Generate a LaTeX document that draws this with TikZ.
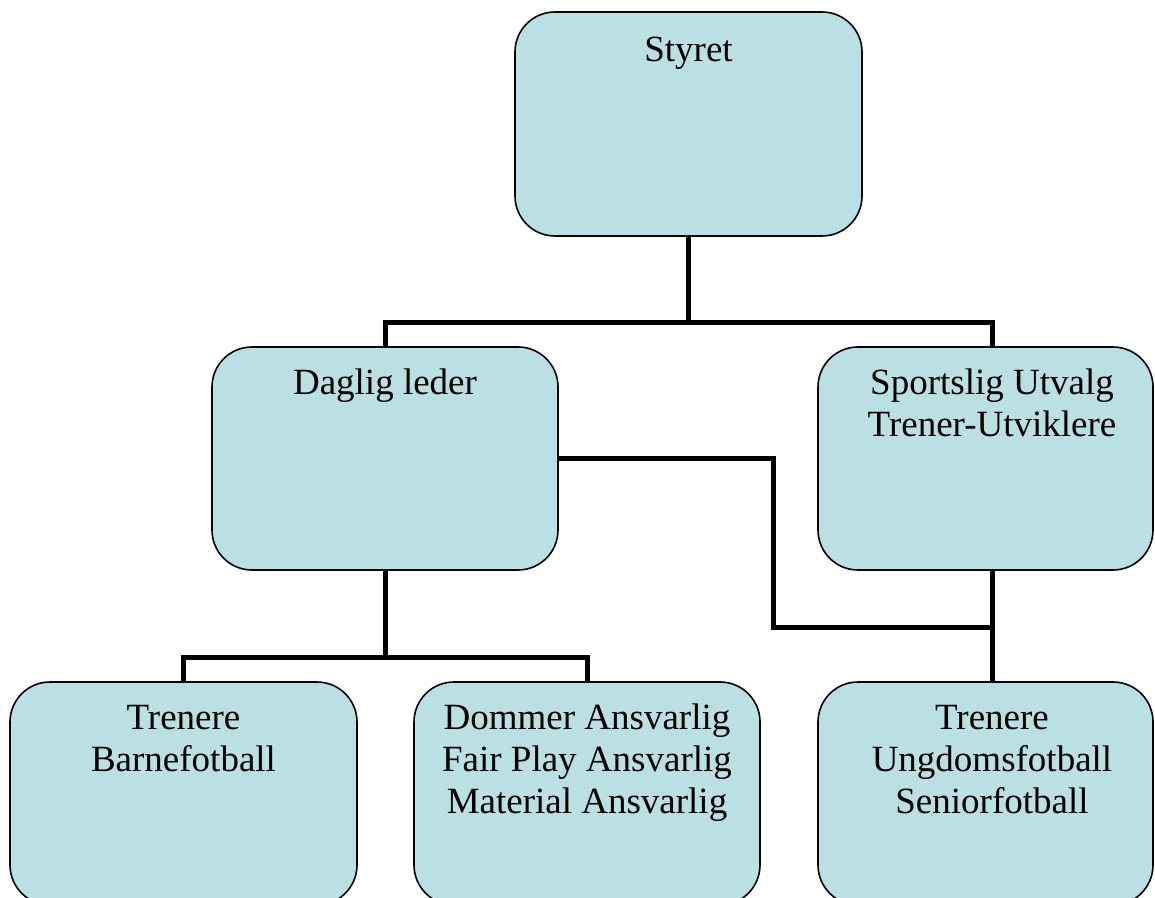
\documentclass[tikz,border=0pt]{standalone}
\usepackage{fontspec}
\setmainfont{Liberation Serif}
\usetikzlibrary{positioning}
\definecolor{boxfill}{RGB}{186,224,227}

\begin{document}
\begin{tikzpicture}[x=1pt,y=1pt,
    unit/.style={draw=black, line width=1.6pt, fill=boxfill, rounded corners=40pt,
                 minimum height=223pt, inner sep=0pt},
    lbl/.style={anchor=base, align=center, inner sep=0pt,
                font=\fontsize{37}{42}\selectfont},
    conn/.style={draw=black, line width=5pt}]
    \useasboundingbox (0,0) rectangle (1155,897);
    \clip (0,0) rectangle (1155,897);

    % boxes
    \node[unit, minimum width=347pt, minimum height=224pt] (styret) at (688.5,773) {};
    \node[unit, minimum width=346pt] (daglig) at (385,438.5) {};
    \node[unit, minimum width=335pt] (sport) at (985.5,438.5) {};
    \node[unit, minimum width=347pt] (barne) at (183.5,103.5) {};
    \node[unit, minimum width=346pt] (dommer) at (587,103.5) {};
    \node[unit, minimum width=335pt] (ungdom) at (985.5,103.5) {};

    % texts (base = last line)
    \node[lbl] (styretlbl) at (688.5,835) {Styret};
    \node[lbl] (dagliglbl) at (385,502) {Daglig leder};
    \node[lbl] (sportlbl) at (992,460) {Sportslig Utvalg\\Trener-Utviklere};
    \node[lbl] (barnelbl) at (183.5,126) {Trenere\\Barnefotball};
    \node[lbl] (dommerlbl) at (587,84) {Dommer Ansvarlig\\Fair Play Ansvarlig\\Material Ansvarlig};
    \node[lbl] (ungdomlbl) at (992,84) {Trenere\\Ungdomsfotball\\Seniorfotball};

    % connectors
    \draw[conn] (styret.south) -- ++(0,-86) coordinate (split);
    \draw[conn] (daglig.north) |- (split) -| (sportlbl |- sport.north);
    \draw[conn] (daglig.south) -- ++(0,-87) coordinate (split2);
    \draw[conn] (barne.north) |- (split2) -| (dommer.north);
    \coordinate (join) at (992,270);
    \draw[conn] (daglig.east) -| ([xshift=-219]join) -- (join);
    \draw[conn] (sportlbl |- sport.south) -- (sportlbl |- ungdom.north);
  \end{tikzpicture}
\end{document}
